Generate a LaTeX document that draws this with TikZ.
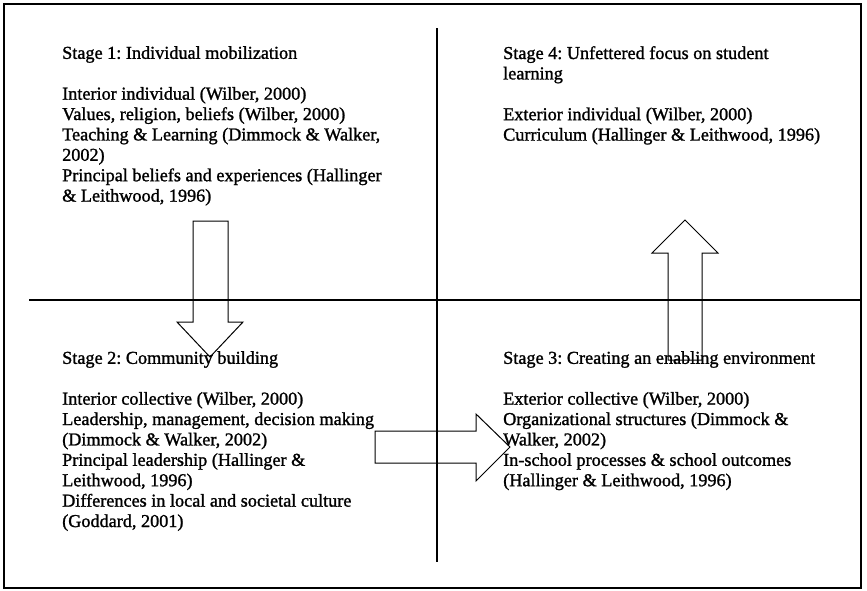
\documentclass[tikz,border=0pt]{standalone}
\usepackage{fontspec}
\setmainfont[FakeBold=1.3]{Liberation Serif}
\frenchspacing
\begin{document}
\begin{tikzpicture}[
        x = 1pt, y = -1pt,
        frame/.style = {draw, line width=1.8pt},
        divider/.style = {draw, line width=1.2pt},
        blockarrow/.style = {draw, line width=1pt, line join=miter},
        stage/.style = {anchor=north west, inner sep=0pt, align=left,
                        font=\fontsize{18.2}{20.4}\selectfont}
    ]
    \useasboundingbox (0,0) rectangle (867,590);
    %--- Frame and quadrants ---%
        \draw[frame] (4,4) rectangle (861,588);
        \coordinate (vtop) at (437,28);
        \coordinate (vbot) at (437,562);
        \coordinate (hleft) at (29,300);
        \coordinate (hright) at (861,300);
        \draw[divider] (vtop) -- (vbot);
        \draw[divider] (hleft) -- (hright);
    %--- Stage texts ---%
        \node (s1) [stage] at (62,46) {Stage 1: Individual mobilization\\[20.4pt]
            Interior individual (Wilber, 2000)\\
            Values, religion, beliefs (Wilber, 2000)\\
            Teaching \& Learning (Dimmock \& Walker,\\
            2002)\\
            Principal beliefs and experiences (Hallinger\\
            \& Leithwood, 1996)};
        \node (s4) [stage] at (503,46) {Stage 4: Unfettered focus on student\\
            learning\\[20.4pt]
            Exterior individual (Wilber, 2000)\\
            Curriculum (Hallinger \& Leithwood, 1996)};
        \node (s2) [stage] at (62,351) {Stage 2: Community building\\[20.4pt]
            Interior collective (Wilber, 2000)\\
            Leadership, management, decision making\\
            (Dimmock \& Walker, 2002)\\
            Principal leadership (Hallinger \&\\
            Leithwood, 1996)\\
            Differences in local and societal culture\\
            (Goddard, 2001)};
        \node (s3) [stage] at (503,351) {Stage 3: Creating an enabling environment\\[20.4pt]
            Exterior collective (Wilber, 2000)\\
            Organizational structures (Dimmock \&\\
            Walker, 2002)\\
            In-school processes \& school outcomes\\
            (Hallinger \& Leithwood, 1996)};
    %--- Block arrows ---%
        % stage 1 to stage 2
        \draw[blockarrow] (193,221) -- (228,221) -- (228,322) -- (243,322)
            -- (210,357) -- (177,322) -- (193,322) -- cycle;
        % stage 2 to stage 3
        \draw[blockarrow] (375,431) -- (476,431) -- (476,414) -- (510,447)
            -- (476,481) -- (476,463) -- (375,463) -- cycle;
        % stage 3 to stage 4
        \draw[blockarrow] (668,360) -- (668,253) -- (652,253) -- (685,220)
            -- (718,253) -- (702,253) -- (702,360) -- cycle;
\end{tikzpicture}
\end{document}
